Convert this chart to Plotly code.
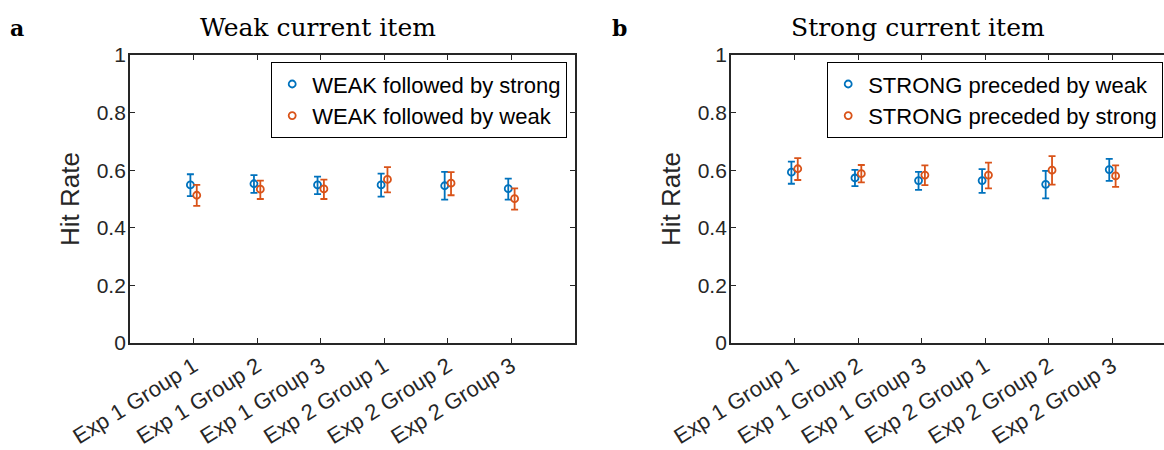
import plotly.graph_objects as go

categories = ["Exp 1 Group 1", "Exp 1 Group 2", "Exp 1 Group 3",
              "Exp 2 Group 1", "Exp 2 Group 2", "Exp 2 Group 3"]
cat_pos = [1, 2, 3, 4, 5, 6]

# Panel a: weak current item
weak_fs = [0.549, 0.553, 0.549, 0.549, 0.546, 0.536]
weak_fs_hi = [0.586, 0.583, 0.578, 0.588, 0.594, 0.571]
weak_fs_lo = [0.510, 0.521, 0.517, 0.508, 0.498, 0.498]
weak_fw = [0.513, 0.534, 0.535, 0.568, 0.555, 0.501]
weak_fw_hi = [0.549, 0.564, 0.567, 0.611, 0.593, 0.537]
weak_fw_lo = [0.476, 0.500, 0.500, 0.523, 0.513, 0.463]

# Panel b: strong current item
strong_pw = [0.593, 0.573, 0.564, 0.564, 0.551, 0.602]
strong_pw_hi = [0.630, 0.601, 0.594, 0.604, 0.598, 0.639]
strong_pw_lo = [0.553, 0.545, 0.532, 0.521, 0.502, 0.563]
strong_ps = [0.605, 0.588, 0.583, 0.583, 0.600, 0.580]
strong_ps_hi = [0.642, 0.618, 0.617, 0.626, 0.649, 0.617]
strong_ps_lo = [0.566, 0.558, 0.548, 0.537, 0.550, 0.542]

y_ticks = [0, 0.2, 0.4, 0.6, 0.8, 1]
y_ticklabels = ["0", "0.2", "0.4", "0.6", "0.8", "1"]

BLUE = "#0072BD"
ORANGE = "#D95319"
AX = "#262626"
OFFSET = 0.05

W, H = 1164, 450
SANS = "Liberation Sans, Arial, sans-serif"
SERIF = "DejaVu Serif, Liberation Serif, serif"


def trace(vals, hi, lo, shift, color, name, xa, ya, legend):
    return go.Scatter(
        x=[p + shift for p in cat_pos], y=vals,
        mode="markers", name=name,
        marker=dict(symbol="circle-open", size=7, color=color,
                    line=dict(width=1.8, color=color)),
        error_y=dict(type="data", symmetric=False,
                     array=[h - v for h, v in zip(hi, vals)],
                     arrayminus=[v - l for v, l in zip(vals, lo)],
                     color=color, thickness=1.8, width=3.5),
        xaxis=xa, yaxis=ya, legend=legend,
    )


fig = go.Figure()
fig.add_trace(trace(weak_fs, weak_fs_hi, weak_fs_lo, -OFFSET, BLUE,
                    "WEAK followed by strong", "x", "y", "legend"))
fig.add_trace(trace(weak_fw, weak_fw_hi, weak_fw_lo, OFFSET, ORANGE,
                    "WEAK followed by weak", "x", "y", "legend"))
fig.add_trace(trace(strong_pw, strong_pw_hi, strong_pw_lo, -OFFSET, BLUE,
                    "STRONG preceded by weak", "x2", "y2", "legend2"))
fig.add_trace(trace(strong_ps, strong_ps_hi, strong_ps_lo, OFFSET, ORANGE,
                    "STRONG preceded by strong", "x2", "y2", "legend2"))

xcommon = dict(
    tickmode="array", tickvals=cat_pos, ticktext=categories,
    tickangle=-32, ticks="inside", ticklen=5, tickwidth=1.2, tickcolor=AX,
    showline=True, linecolor=AX, linewidth=1.8, showgrid=False,
    zeroline=False, automargin=False, mirror="ticks",
    tickfont=dict(family=SANS, size=22, color=AX),
)
ycommon = dict(
    range=[0, 1], tickmode="array", tickvals=y_ticks, ticktext=y_ticklabels,
    ticks="inside", ticklen=5, tickwidth=1.2, tickcolor=AX,
    showline=True, linecolor=AX, linewidth=1.8, showgrid=False,
    zeroline=False, automargin=False, ticklabelstandoff=-2,
    tickfont=dict(family=SANS, size=21, color=AX),
    title=dict(text="Hit Rate", font=dict(family=SANS, size=26, color=AX), standoff=10),
)

left0, left1 = 130 / W, 575 / W
right0 = 731 / W
right_range_max = (W - 731) / ((575 - 130) / 7.0)
ybot, ytop = 1 - 343 / H, 1 - 55 / H

legend_common = dict(
    xanchor="right", yanchor="top", bgcolor="white",
    bordercolor="#000000", borderwidth=1.2,
    font=dict(family=SANS, size=22, color="#000000"),
    tracegroupgap=0, itemwidth=30,
)

fig.update_layout(
    width=W, height=H,
    margin=dict(l=0, r=0, t=0, b=0),
    paper_bgcolor="white", plot_bgcolor="white",
    xaxis=dict(domain=[left0, left1], range=[0, 7], anchor="y", **xcommon),
    yaxis=dict(domain=[ybot, ytop], anchor="x", mirror="ticks", **ycommon),
    xaxis2=dict(domain=[right0, 1.0], range=[0, right_range_max], anchor="y2", **xcommon),
    yaxis2=dict(domain=[ybot, ytop], anchor="x2", mirror=False, **ycommon),
    legend=dict(x=567 / W, y=1 - 62 / H, **legend_common),
    legend2=dict(x=1163 / W, y=1 - 62 / H, **legend_common),
    showlegend=True,
)

annots = [
    dict(text="Weak current item", x=318 / W, y=1 - 27 / H),
    dict(text="Strong current item", x=918 / W, y=1 - 27 / H),
]
for a in annots:
    fig.add_annotation(text=a["text"], x=a["x"], y=a["y"], xref="paper", yref="paper",
                       showarrow=False, xanchor="center", yanchor="middle",
                       font=dict(family=SERIF, size=25, color="#000000"))
fig.add_annotation(text="<b>a</b>", x=17 / W, y=1 - 28 / H, xref="paper", yref="paper",
                   showarrow=False, xanchor="center", yanchor="middle",
                   font=dict(family=SERIF, size=22, color="#000000"))
fig.add_annotation(text="<b>b</b>", x=619 / W, y=1 - 28 / H, xref="paper", yref="paper",
                   showarrow=False, xanchor="center", yanchor="middle",
                   font=dict(family=SERIF, size=22, color="#000000"))

fig.write_html("out.html")
